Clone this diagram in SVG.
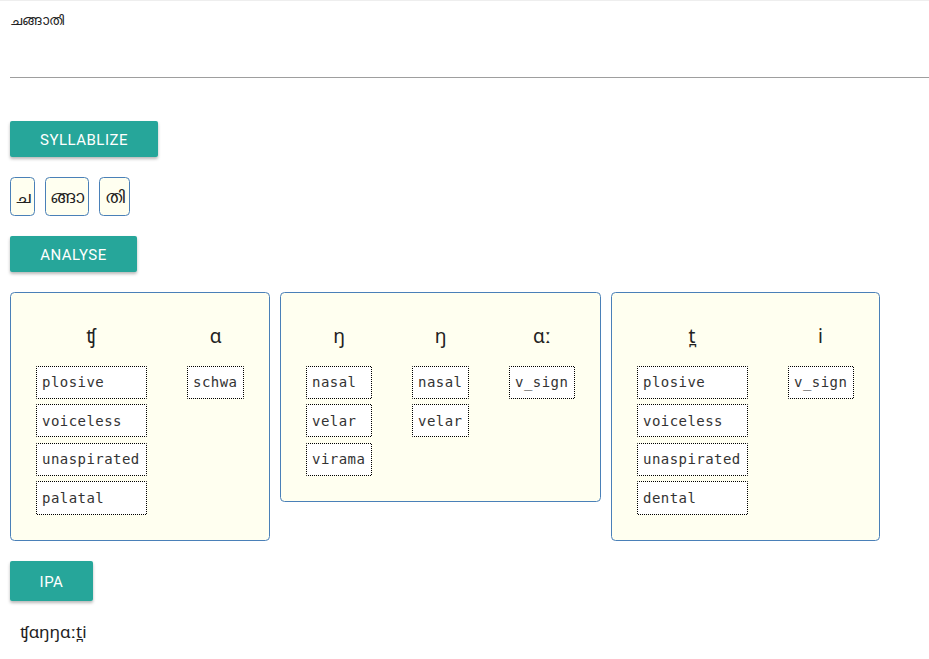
<svg xmlns="http://www.w3.org/2000/svg" width="929" height="659" viewBox="0 0 929 659">
<defs>
<style>
.btn{fill:#26a69a;}
.btnt{fill:#ffffff;font-family:Roboto,"Liberation Sans",sans-serif;font-size:15px;letter-spacing:0.5px;text-anchor:middle;}
.syl{fill:#fffff0;stroke:#4a80b8;stroke-width:1;}
.mal{fill:#222;font-family:"Noto Sans","DejaVu Sans",sans-serif;}
.panel{fill:#fffff0;stroke:#4a80b8;stroke-width:1;}
.ph{fill:#222;font-family:"Noto Sans","DejaVu Sans",sans-serif;font-size:19px;text-anchor:middle;}
.lb{fill:#ffffff;stroke:#000;stroke-width:1;stroke-dasharray:1 1;stroke-dashoffset:0.5;}
.lt{fill:#333;font-family:"DejaVu Sans Mono","Liberation Mono",monospace;font-size:14px;letter-spacing:0.45px;}
</style>
<filter id="sh" x="-10%" y="-20%" width="120%" height="150%">
<feDropShadow dx="0" dy="2" stdDeviation="1.5" flood-color="#000" flood-opacity="0.28"/>
</filter>
</defs>
<rect x="0" y="0" width="929" height="659" fill="#ffffff"/>
<line x1="0" y1="0.5" x2="929" y2="0.5" stroke="#eeeeee" stroke-width="1"/>
<g id="input">
<text class="mal" x="10" y="25" font-size="14">ചങ്ങാതി</text>
<line x1="10" y1="77.5" x2="929" y2="77.5" stroke="#9e9e9e" stroke-width="1"/>
</g>
<g id="btn-syllablize">
<rect class="btn" x="10" y="121" width="148" height="36" rx="2" filter="url(#sh)"/>
<text class="btnt" x="84" y="145">SYLLABLIZE</text>
</g>
<g id="syllables">
<rect class="syl" x="10.5" y="177.5" width="24" height="38" rx="4"/>
<text class="mal" x="22.5" y="203" font-size="18" text-anchor="middle">ച</text>
<rect class="syl" x="45.5" y="177.5" width="43" height="38" rx="4"/>
<text class="mal" x="67" y="203" font-size="18" text-anchor="middle">ങ്ങാ</text>
<rect class="syl" x="99.5" y="177.5" width="30" height="38" rx="4"/>
<text class="mal" x="114.5" y="203" font-size="18" text-anchor="middle">തി</text>
</g>
<g id="btn-analyse">
<rect class="btn" x="10" y="236" width="127" height="36" rx="2" filter="url(#sh)"/>
<text class="btnt" x="73.5" y="260">ANALYSE</text>
</g>
<g id="panel-1">
<rect class="panel" x="10.5" y="292.5" width="259" height="248" rx="4"/>
<text class="ph" x="91" y="343">ʧ</text>
<text class="ph" x="215.5" y="343">ɑ</text>
<rect class="lb" x="36.5" y="366.5" width="110" height="32"/>
<text class="lt" x="42" y="387">plosive</text>
<rect class="lb" x="36.5" y="404.5" width="110" height="32"/>
<text class="lt" x="42" y="426">voiceless</text>
<rect class="lb" x="36.5" y="443.5" width="110" height="32"/>
<text class="lt" x="42" y="464">unaspirated</text>
<rect class="lb" x="36.5" y="481.5" width="110" height="33"/>
<text class="lt" x="42" y="503">palatal</text>
<rect class="lb" x="187.5" y="366.5" width="56" height="32"/>
<text class="lt" x="193" y="387">schwa</text>
</g>
<g id="panel-2">
<rect class="panel" x="280.5" y="292.5" width="320" height="209" rx="4"/>
<text class="ph" x="339" y="343">ŋ</text>
<text class="ph" x="440.5" y="343">ŋ</text>
<text class="ph" x="542" y="343">ɑː</text>
<rect class="lb" x="306.5" y="366.5" width="65" height="32"/>
<text class="lt" x="312" y="387">nasal</text>
<rect class="lb" x="306.5" y="404.5" width="65" height="32"/>
<text class="lt" x="312" y="426">velar</text>
<rect class="lb" x="306.5" y="443.5" width="65" height="32"/>
<text class="lt" x="312" y="464">virama</text>
<rect class="lb" x="412.5" y="366.5" width="56" height="32"/>
<text class="lt" x="418" y="387">nasal</text>
<rect class="lb" x="412.5" y="404.5" width="56" height="32"/>
<text class="lt" x="418" y="426">velar</text>
<rect class="lb" x="509.5" y="366.5" width="65" height="32"/>
<text class="lt" x="515" y="387">v_sign</text>
</g>
<g id="panel-3">
<rect class="panel" x="611.5" y="292.5" width="268" height="248" rx="4"/>
<text class="ph" x="692" y="343">t̪</text>
<text class="ph" x="820.5" y="343">i</text>
<rect class="lb" x="637.5" y="366.5" width="110" height="32"/>
<text class="lt" x="643" y="387">plosive</text>
<rect class="lb" x="637.5" y="404.5" width="110" height="32"/>
<text class="lt" x="643" y="426">voiceless</text>
<rect class="lb" x="637.5" y="443.5" width="110" height="32"/>
<text class="lt" x="643" y="464">unaspirated</text>
<rect class="lb" x="637.5" y="481.5" width="110" height="33"/>
<text class="lt" x="643" y="503">dental</text>
<rect class="lb" x="788.5" y="366.5" width="65" height="32"/>
<text class="lt" x="794" y="387">v_sign</text>
</g>
<g id="btn-ipa">
<rect class="btn" x="10" y="561" width="83" height="40" rx="2" filter="url(#sh)"/>
<text class="btnt" x="51.5" y="587">IPA</text>
</g>
<g id="result">
<text x="20" y="638" fill="#222" font-family="'Noto Sans','DejaVu Sans',sans-serif" font-size="17">ʧɑŋŋɑːt̪i</text>
</g>
<g id="connectors"></g>
</svg>
